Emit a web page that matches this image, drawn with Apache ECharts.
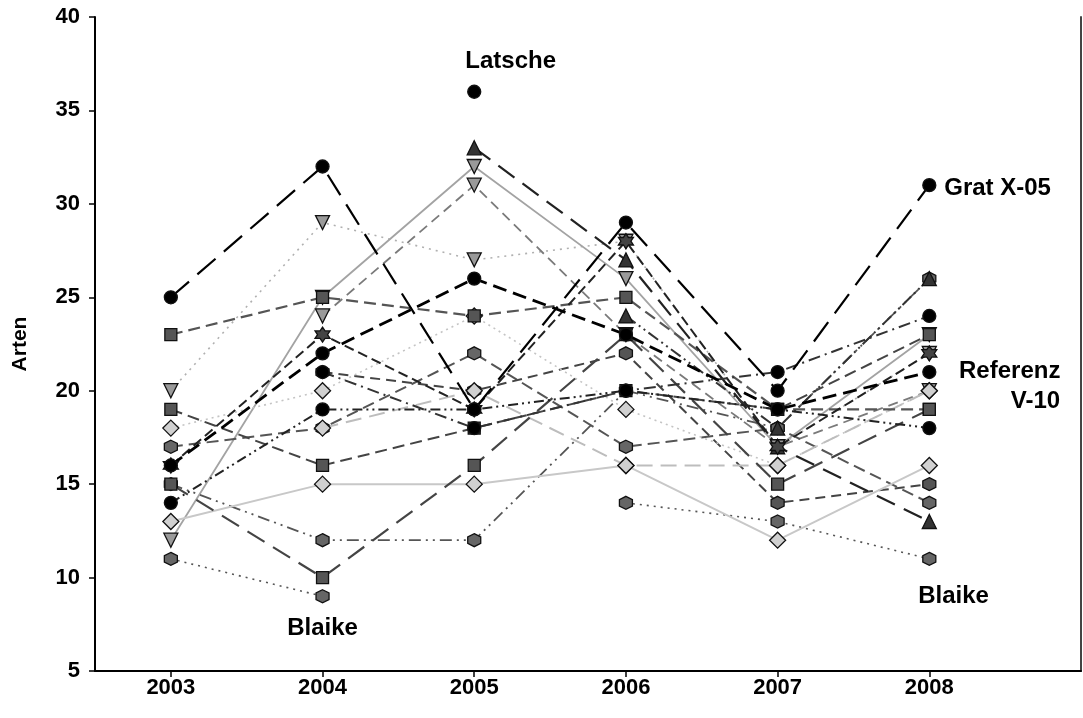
<!DOCTYPE html>
<html>
<head>
<meta charset="utf-8">
<script src="https://cdn.jsdelivr.net/npm/echarts@6/dist/echarts.min.js"></script>
<style>
html,body{margin:0;padding:0;background:#fff;}
#chart{width:1083px;height:718px;}
</style>
</head>
<body>
<div id="chart"></div>
<script>
// ---- data ----
var years = [2003, 2004, 2005, 2006, 2007, 2008];
var yTicks = [5, 10, 15, 20, 25, 30, 35, 40];

var sGratX05   = [25, 32, 19, 29, 20, 31];
var sLatsche   = [null, null, 36, null, null, null];
var sBlaike    = [11, 9, null, 14, 13, 11];
var sReferenz  = [16, 22, 26, 23, 19, 21];
var sCircleA   = [14, 19, 19, 20, 19, 18];
var sCircleB   = [null, 21, 18, 20, 21, 24];
var sTriUpA    = [null, null, 33, 27, 17, 13];
var sTriUpB    = [null, null, null, 24, 18, 26];
var sSquareA   = [23, 25, 24, 25, 19, 19];
var sSquareB   = [15, 10, 16, 23, 15, 19];
var sSquareC   = [19, 16, 18, 20, 19, 23];
var sStarA     = [16, 23, 19, 28, 17, 22];
var sTriDownA  = [20, 29, 27, 28, 17, 22];
var sTriDownB  = [12, 25, 32, 26, 17, 23];
var sTriDownC  = [null, 24, 31, 23, 17, 20];
var sHexA      = [15, 12, 12, 20, 18, 26];
var sHexB      = [17, 18, 22, 17, 18, 14];
var sHexC      = [null, 21, 20, 22, 14, 15];
var sDiamondA  = [18, 20, 24, 19, 16, 20];
var sDiamondB  = [13, 15, 15, 16, 12, 16];
var sDiamondC  = [null, 18, 20, 16, 16, 20];

var annoNames = ['Latsche', 'Blaike', 'Grat X-05', 'Referenz', 'V-10', 'Blaike'];
var annoX     = [2005.24, 2004.0, 2008.45, 2008.53, 2008.7, 2008.16];
var annoY     = [37.6, 7.3, 30.85, 21.05, 19.45, 9.0];

// ---- symbols ----
var SYM = {
  circle: 'circle',
  square: 'rect',
  triUp: 'triangle',
  diamond: 'diamond',
  triDown: 'path://M0,0 L10,0 L5,9 Z',
  hex: 'path://M5,0 L9.33,2.5 L9.33,7.5 L5,10 L0.67,7.5 L0.67,2.5 Z',
  star: 'path://M5,0 L6.44,2.5 L9.33,2.5 L7.89,5 L9.33,7.5 L6.44,7.5 L5,10 L3.56,7.5 L0.67,7.5 L2.11,5 L0.67,2.5 L3.56,2.5 Z'
};
var SIZE = { circle: 13, square: 12, triUp: 14, diamond: 16, triDown: 14, hex: 13, star: 15 };

function mk(name, vals, sym, fill, lineColor, width, dash) {
  return {
    name: name,
    type: 'line',
    data: vals.map(function (v, i) { return [years[i], v]; }),
    symbol: SYM[sym],
    symbolSize: SIZE[sym],
    showSymbol: true,
    connectNulls: false,
    itemStyle: { color: fill, borderColor: '#111', borderWidth: 1.3 },
    lineStyle: { color: lineColor, width: width, type: dash },
    emphasis: { disabled: true },
    z: 2
  };
}

var series = [
  mk('s5', sTriDownA, 'triDown', '#9a9a9a', '#b0b0b0', 1.6, [2, 5]),
  mk('s6', sTriDownB, 'triDown', '#9a9a9a', '#a3a3a3', 1.8, 'solid'),
  mk('s9', sTriDownC, 'triDown', '#9a9a9a', '#7a7a7a', 1.8, [10, 6]),
  mk('s13', sHexB, 'hex', '#666', '#555', 2, [12, 6]),
  mk('s19', sHexC, 'hex', '#555', '#444', 2, [10, 6]),
  mk('s12', sHexA, 'hex', '#666', '#555', 1.8, [12, 5, 2, 5, 2, 5]),
  mk('Blaike', sBlaike, 'hex', '#666', '#555', 1.6, [2, 5]),
  mk('s14', sDiamondA, 'diamond', '#d0d0d0', '#c4c4c4', 1.6, [2, 4]),
  mk('s18', sDiamondC, 'diamond', '#d0d0d0', '#bdbdbd', 2, [16, 8]),
  mk('s15', sDiamondB, 'diamond', '#d0d0d0', '#c8c8c8', 2, 'solid'),
  mk('s11', sSquareC, 'square', '#555', '#444', 2, [12, 6]),
  mk('s10', sSquareB, 'square', '#555', '#444', 2.2, [20, 10]),
  mk('s4', sSquareA, 'square', '#555', '#555', 2.2, [12, 6]),
  mk('s8', sTriUpA, 'triUp', '#333', '#222', 2.2, [20, 10]),
  mk('s8b', sTriUpB, 'triUp', '#333', '#333', 2, [12, 4, 2, 4, 2, 4]),
  mk('s16', sStarA, 'star', '#444', '#222', 2, [10, 5]),
  mk('s17', sCircleA, 'circle', '#000', '#222', 2, [10, 4, 2, 4, 2, 4]),
  mk('s20', sCircleB, 'circle', '#000', '#333', 2, [12, 5, 2, 5]),
  mk('Referenz V-10', sReferenz, 'circle', '#000', '#000', 2.8, [14, 7]),
  mk('Latsche', sLatsche, 'circle', '#000', '#000', 2, 'solid'),
  mk('Grat X-05', sGratX05, 'circle', '#000', '#000', 2.2, [24, 11])
];

series.push({
  type: 'scatter',
  symbolSize: 1,
  silent: true,
  itemStyle: { color: 'rgba(0,0,0,0)', opacity: 1 },
  data: annoNames.map(function (t, i) { return { value: [annoX[i], annoY[i]], name: t }; }),
  label: {
    show: true,
    position: 'inside',
    formatter: function (p) { return p.name; },
    color: '#000',
    opacity: 1,
    textBorderWidth: 0,
    fontFamily: 'Liberation Sans, Arial, sans-serif',
    fontWeight: 'bold',
    fontSize: 24,
    align: 'center',
    verticalAlign: 'middle'
  },
  z: 10
});

var chart = echarts.init(document.getElementById('chart'), null, { renderer: 'canvas' });
chart.setOption({
  animation: false,
  backgroundColor: '#fff',
  grid: { left: 95, right: 2, top: 17, bottom: 47, show: false },
  xAxis: {
    type: 'value',
    min: 2002.5,
    max: 2009,
    interval: 0.5,
    axisLine: { show: true, lineStyle: { color: '#000', width: 2 } },
    axisTick: { show: true, customValues: years, length: 6, inside: false, lineStyle: { color: '#000', width: 1.5 } },
    axisLabel: { customValues: years, color: '#000', fontFamily: 'Liberation Sans, Arial, sans-serif', fontWeight: 'bold', fontSize: 22, margin: 6, formatter: function (v) { return String(Math.round(v)); } },
    splitLine: { show: false }
  },
  yAxis: [{
    type: 'value',
    min: 5,
    max: 40,
    interval: 5,
    name: 'Arten',
    nameLocation: 'middle',
    nameGap: 64,
    nameTextStyle: { color: '#000', fontFamily: 'Liberation Sans, Arial, sans-serif', fontWeight: 'bold', fontSize: 21 },
    axisLine: { show: true, lineStyle: { color: '#000', width: 2 } },
    axisTick: { show: true, length: 6, lineStyle: { color: '#000', width: 1.5 } },
    axisLabel: { color: '#000', fontFamily: 'Liberation Sans, Arial, sans-serif', fontWeight: 'bold', fontSize: 22, margin: 15 },
    splitLine: { show: false }
  }, {
    type: 'value',
    position: 'right',
    min: 5,
    max: 40,
    interval: 5,
    axisLine: { show: true, lineStyle: { color: '#444', width: 2 } },
    axisTick: { show: false },
    axisLabel: { show: false },
    splitLine: { show: false }
  }],
  series: series
});
</script>
</body>
</html>
